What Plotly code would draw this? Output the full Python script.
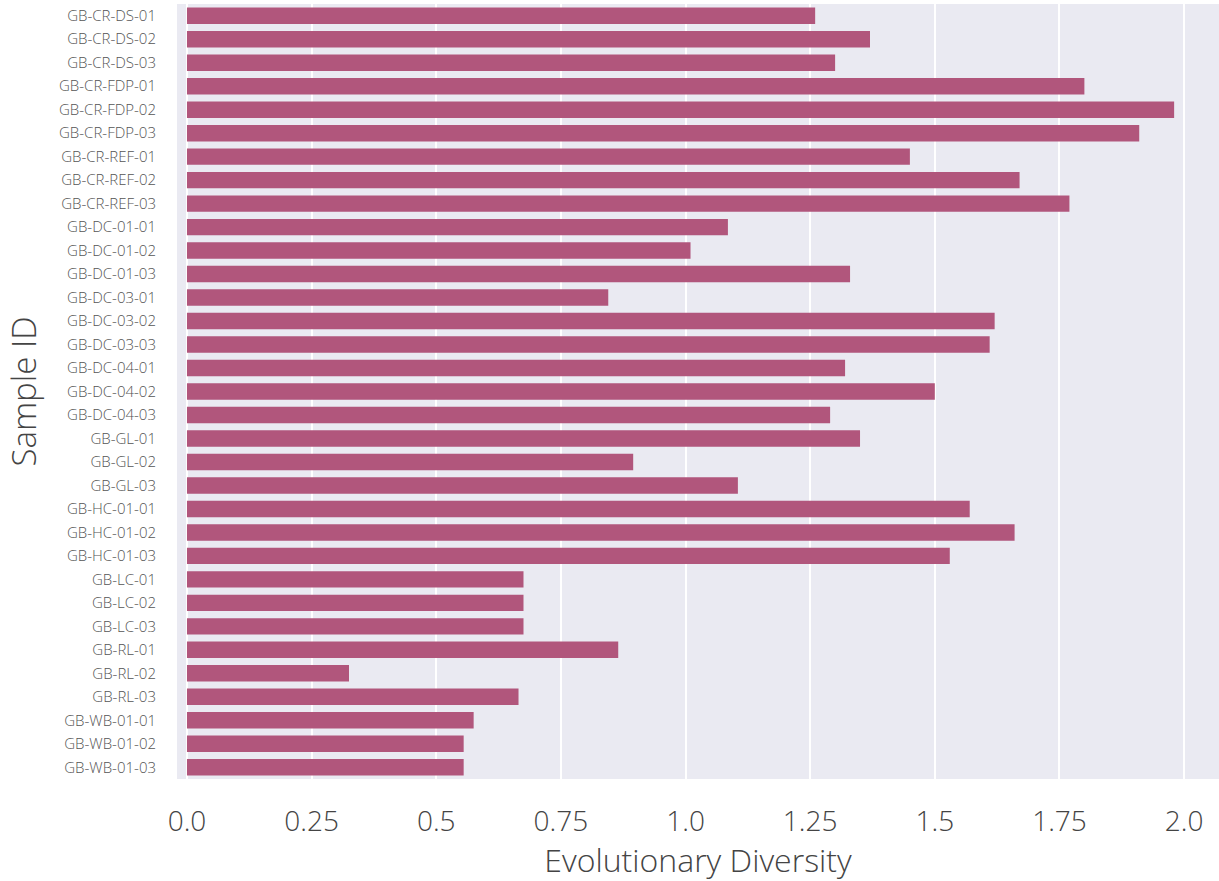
import plotly.graph_objects as go

sample_ids = [
    "GB-CR-DS-01", "GB-CR-DS-02", "GB-CR-DS-03",
    "GB-CR-FDP-01", "GB-CR-FDP-02", "GB-CR-FDP-03",
    "GB-CR-REF-01", "GB-CR-REF-02", "GB-CR-REF-03",
    "GB-DC-01-01", "GB-DC-01-02", "GB-DC-01-03",
    "GB-DC-03-01", "GB-DC-03-02", "GB-DC-03-03",
    "GB-DC-04-01", "GB-DC-04-02", "GB-DC-04-03",
    "GB-GL-01", "GB-GL-02", "GB-GL-03",
    "GB-HC-01-01", "GB-HC-01-02", "GB-HC-01-03",
    "GB-LC-01", "GB-LC-02", "GB-LC-03",
    "GB-RL-01", "GB-RL-02", "GB-RL-03",
    "GB-WB-01-01", "GB-WB-01-02", "GB-WB-01-03",
]
diversity = [
    1.26, 1.37, 1.30,
    1.80, 1.98, 1.91,
    1.45, 1.67, 1.77,
    1.085, 1.01, 1.33,
    0.845, 1.62, 1.61,
    1.32, 1.50, 1.29,
    1.35, 0.895, 1.105,
    1.57, 1.66, 1.53,
    0.675, 0.675, 0.675,
    0.865, 0.325, 0.665,
    0.575, 0.555, 0.555,
]
tick_vals = [0.0, 0.25, 0.5, 0.75, 1.0, 1.25, 1.5, 1.75, 2.0]
tick_text = ["0.0", "0.25", "0.5", "0.75", "1.0", "1.25", "1.5", "1.75", "2.0"]

FONT = "Open Sans"

fig = go.Figure(go.Bar(
    x=diversity, y=sample_ids, orientation="h",
    marker=dict(color="#B1567C", line=dict(width=0)),
))

fig.update_layout(
    width=1219, height=881,
    margin=dict(l=177, r=0, t=4, b=102),
    paper_bgcolor="white",
    plot_bgcolor="#EAEAF2",
    bargap=0.3,
    showlegend=False,
    font=dict(family=FONT, color="#444444"),
)
fig.update_xaxes(
    automargin=False,
    range=[-0.02, 2.07],
    tickvals=tick_vals, ticktext=tick_text,
    tickfont=dict(family=FONT, size=28, color="#444444", weight=300),
    ticklabelstandoff=23,
    showgrid=True, gridcolor="white", gridwidth=1.5,
    zeroline=False, showline=False, ticks="",
    title=dict(text="Evolutionary Diversity",
               font=dict(family=FONT, size=32, color="#444444", weight=300),
               standoff=6),
)
fig.update_yaxes(
    automargin=False,
    autorange="reversed",
    tickfont=dict(family=FONT, size=15, color="#555555", weight=300),
    showgrid=False, zeroline=False, showline=False, ticks="",
    ticklabelstandoff=20,
    title=dict(text="Sample ID",
               font=dict(family=FONT, size=33, color="#444444", weight=300),
               standoff=12),
)

fig.write_html(
    "out.html",
    config={"displayModeBar": False},
    post_script="document.body.style.margin='0';document.body.style.padding='0';",
)
